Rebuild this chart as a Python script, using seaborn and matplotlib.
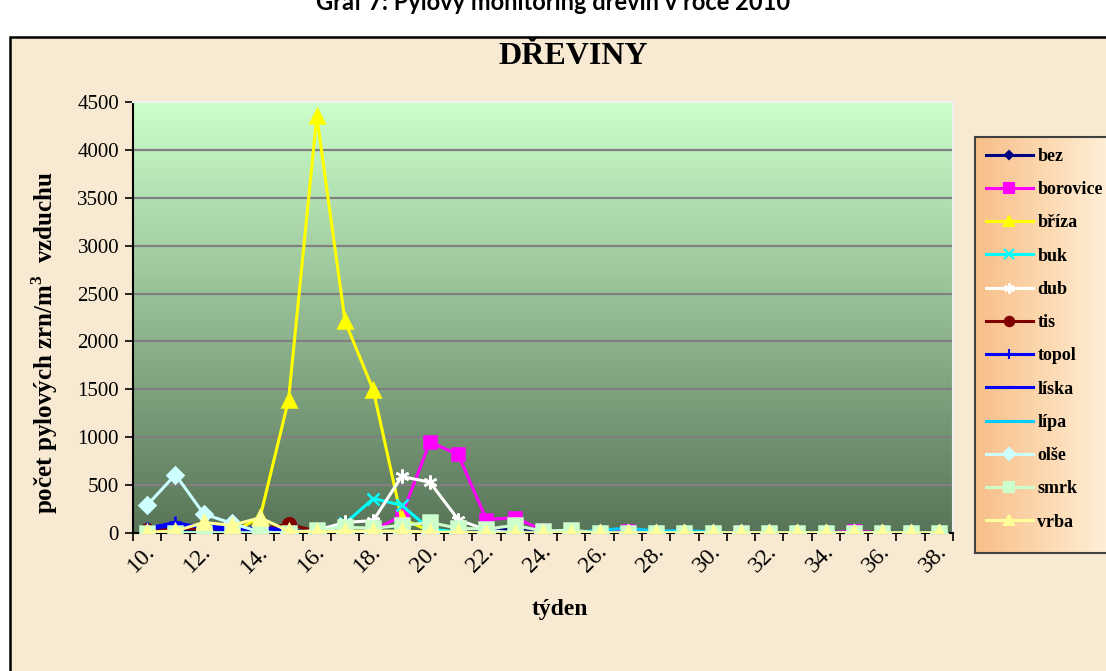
import numpy as np
import matplotlib
matplotlib.use('Agg')
import matplotlib.pyplot as plt
import seaborn as sns
from matplotlib.colors import LinearSegmentedColormap
from matplotlib.patches import Rectangle
from matplotlib.lines import Line2D

# --- data ---
weeks = list(range(10, 39))
bez      = [10, 20, 10, 0, 0, 0, 0, 0, 0, 0, 0, 0, 20, 60, 20, 0, 0, 0, 5, 0, 0, 0, 0, 0, 0, 0, 0, 0, 0]
borovice = [0, 0, 0, 0, 0, 0, 0, 0, 30, 180, 950, 820, 140, 160, 30, 10, 0, 20, 0, 0, 0, 10, 0, 0, 0, 20, 0, 0, 0]
briza    = [0, 0, 0, 0, 170, 1390, 4350, 2210, 1490, 150, 20, 0, 0, 0, 0, 0, 0, 0, 0, 0, 0, 0, 0, 0, 0, 0, 0, 0, 0]
buk      = [0, 0, 0, 0, 0, 0, 20, 100, 360, 290, 40, 10, 0, 0, 0, 0, 0, 0, 0, 0, 0, 0, 0, 0, 0, 0, 0, 0, 0]
dub      = [0, 0, 0, 0, 0, 0, 30, 110, 130, 590, 530, 140, 30, 0, 0, 0, 0, 0, 0, 0, 0, 0, 0, 0, 0, 0, 0, 0, 0]
tis      = [30, 50, 40, 40, 40, 90, 20, 10, 0, 0, 0, 0, 0, 0, 0, 0, 0, 0, 0, 0, 0, 0, 0, 0, 0, 0, 0, 0, 0]
topol    = [50, 110, 50, 30, 60, 30, 0, 0, 0, 0, 0, 0, 0, 0, 0, 0, 0, 0, 0, 0, 0, 0, 0, 0, 0, 0, 0, 0, 0]
liska    = [40, 80, 80, 50, 30, 0, 0, 0, 0, 0, 0, 0, 0, 0, 0, 0, 0, 0, 0, 0, 0, 0, 0, 0, 0, 0, 0, 0, 0]
lipa     = [0, 0, 0, 0, 0, 0, 0, 0, 0, 0, 0, 0, 10, 0, 0, 0, 30, 50, 20, 25, 10, 0, 0, 0, 0, 0, 0, 0, 0]
olse     = [290, 610, 200, 100, 10, 0, 0, 0, 0, 0, 0, 0, 0, 0, 0, 0, 0, 0, 0, 0, 0, 0, 0, 0, 0, 0, 0, 0, 0]
smrk     = [0, 0, 0, 0, 0, 0, 30, 60, 50, 80, 110, 50, 40, 80, 20, 30, 0, 0, 0, 0, 0, 0, 0, 0, 0, 0, 0, 0, 0]
vrba     = [10, 20, 110, 80, 160, 20, 10, 20, 20, 20, 10, 10, 0, 0, 0, 0, 0, 0, 0, 0, 0, 0, 0, 0, 0, 0, 0, 0, 0]

series = [
    ('bez', bez, '#000080', 'D', 6),
    ('borovice', borovice, '#FF00FF', 's', 9),
    ('bříza', briza, '#FFFF00', '^', 10),
    ('buk', buk, '#00FFFF', 'x', 9),
    ('dub', dub, '#FFFFFF', (6, 2, 0), 10),
    ('tis', tis, '#800000', 'o', 9),
    ('topol', topol, '#0000FF', '+', 9),
    ('líska', liska, '#0000FF', '_', 5),
    ('lípa', lipa, '#00CCFF', 'None', 6),
    ('olše', olse, '#CCFFFF', 'D', 8),
    ('smrk', smrk, '#CCFFCC', 's', 10),
    ('vrba', vrba, '#FFFF99', '^', 10),
]

serif = 'Liberation Serif'
plt.rcParams['mathtext.fontset'] = 'custom'
plt.rcParams['mathtext.bf'] = 'Liberation Serif:bold'

fig = plt.figure(figsize=(11.06, 6.71), dpi=100)
fig.patch.set_facecolor('white')
# parchment chart area with border
fig.patches.append(Rectangle((10 / 1106, -0.02), 1.0, 1 - 37 / 671 + 0.02, transform=fig.transFigure,
                             facecolor='#F8EAD2', edgecolor='black', lw=1.8, zorder=-10))
fig.text(0.5, 1 - 10 / 671, 'Graf 7: Pylový monitoring dřevin v roce 2010', ha='center', va='baseline',
         fontsize=17, fontweight='bold', family='Lato')

ax = fig.add_axes([133 / 1106, 1 - 533 / 671, 820 / 1106, 431 / 671])
ax.set_facecolor('none')

# green gradient background of plot area
cmap = LinearSegmentedColormap.from_list('grn', ['#587458', '#CCFFCC'])
grad = np.linspace(0, 1, 256).reshape(-1, 1)
ax.imshow(grad, extent=(9.5, 38.5, 0, 4500), origin='lower', aspect='auto', cmap=cmap, zorder=0)

for yv in range(500, 4500, 500):
    ax.axhline(yv, color='#808080', lw=1.6, zorder=1)

for i, (name, vals, col, mk, ms) in enumerate(series):
    sns.lineplot(x=weeks, y=vals, ax=ax, color=col, lw=2.2, marker=mk, markersize=ms,
                 markeredgecolor=col, markerfacecolor=col, markeredgewidth=1.8,
                 zorder=3 + i, label=name, legend=False)

ax.set_xlim(9.5, 38.5)
ax.set_ylim(0, 4500)
ax.set_yticks(range(0, 4501, 500))
ax.set_yticklabels([str(v) for v in range(0, 4501, 500)], family=serif, fontsize=15)
ax.tick_params(axis='y', direction='out', length=6, width=1.2, pad=4)

# ticks between categories, labels every other week
ax.set_xticks([w + 0.5 for w in range(9, 39)])
ax.set_xticklabels([])
ax.tick_params(axis='x', which='major', direction='out', length=6, width=1.2)
ax.set_xticks(weeks[::2], minor=True)
ax.set_xticklabels([f'{w}.' for w in weeks[::2]], minor=True, rotation=45, ha='right',
                   va='top', family=serif, fontsize=17)
ax.tick_params(axis='x', which='minor', length=0, pad=6)
for lbl in ax.get_xticklabels(minor=True):
    lbl.set_transform(lbl.get_transform() + matplotlib.transforms.ScaledTranslation(12 / 100, 0, fig.dpi_scale_trans))

for s in ['left', 'bottom']:
    ax.spines[s].set_color('black')
    ax.spines[s].set_linewidth(1.5)
for s in ['top', 'right']:
    ax.spines[s].set_color('#F0F0F0')
    ax.spines[s].set_linewidth(1.5)

fig.text(573 / 1106, 1 - 57 / 671, 'DŘEVINY', ha='center', va='center', fontsize=23,
         fontweight='bold', family=serif)
fig.text(45 / 1106, 1 - 343 / 671, 'počet pylových zrn/m$^\\mathbf{3}$  vzduchu', ha='center', va='center',
         rotation=90, fontsize=18, fontweight='bold', family=serif)
fig.text(560 / 1106, 1 - 610 / 671, 'týden', ha='center', va='center', fontsize=17,
         fontweight='bold', family=serif)

# legend box with orange gradient
lax = fig.add_axes([975 / 1106, 1 - 553 / 671, 140 / 1106, 416 / 671])
lcmap = LinearSegmentedColormap.from_list('org', ['#F8BE88', '#FCD8B0', '#FFF2DC'])
lax.imshow(np.linspace(0, 1, 256).reshape(1, -1), extent=(0, 1, 0, 1), aspect='auto', cmap=lcmap)
lax.set_xticks([])
lax.set_yticks([])
for s in lax.spines.values():
    s.set_color('#404040')
    s.set_linewidth(1.5)

handles = [Line2D([], [], color=c, lw=2.2, marker=m, markersize=ms * 0.75, markeredgecolor=c,
                  markerfacecolor=c, markeredgewidth=1.5) for _, _, c, m, ms in series]
leg = lax.legend(handles, [s[0] for s in series], loc='upper left', bbox_to_anchor=(0.0, 1.0),
                 frameon=False, prop={'family': serif, 'weight': 'bold', 'size': 13},
                 handlelength=2.6, labelspacing=0.9, borderaxespad=0.3, handletextpad=0.25,
                 borderpad=0.3)

fig.savefig('out.png', dpi=100)
